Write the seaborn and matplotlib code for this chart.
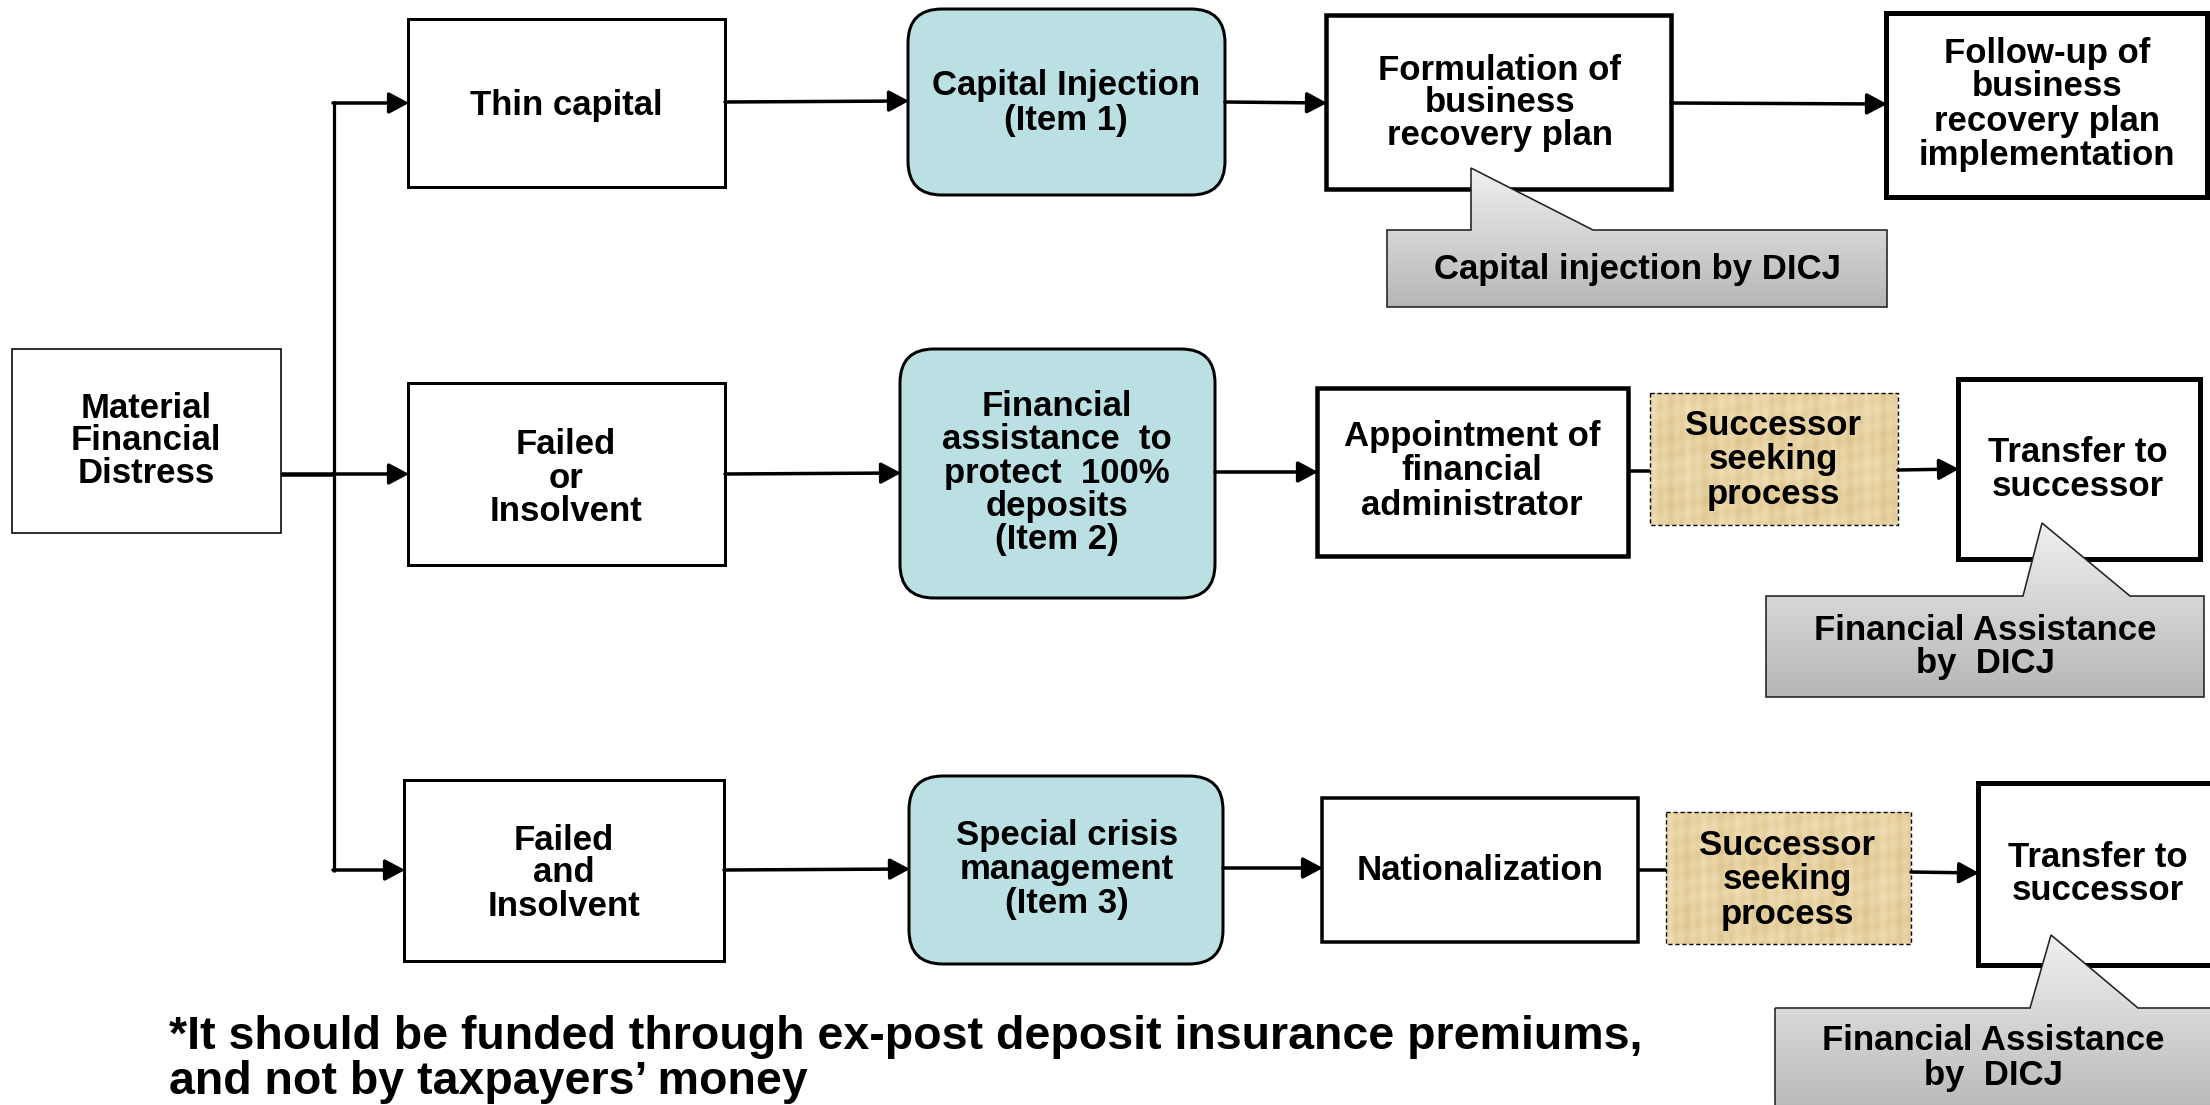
import numpy as np
import matplotlib
matplotlib.use("Agg")
import matplotlib.pyplot as plt
import seaborn as sns
from matplotlib.patches import Rectangle, FancyBboxPatch, Polygon, FancyArrowPatch
from matplotlib.colors import LinearSegmentedColormap

# ---------------- content ----------------
distress_label = "Material\nFinancial\nDistress"
condition_labels = ["Thin capital", "Failed\nor\nInsolvent", "Failed\nand\nInsolvent"]
measure_labels = ["Capital Injection\n(Item 1)",
                  "Financial\nassistance  to\nprotect  100%\ndeposits\n(Item 2)",
                  "Special crisis\nmanagement\n(Item 3)"]
step_labels = ["Formulation of\nbusiness\nrecovery plan",
               "Appointment of\nfinancial\nadministrator",
               "Nationalization"]
seeking_label = "Successor\nseeking\nprocess"
final_labels = ["Follow-up of\nbusiness\nrecovery plan\nimplementation",
                "Transfer to\nsuccessor", "Transfer to\nsuccessor"]
callout_labels = ["Capital injection by DICJ",
                  "Financial Assistance\nby  DICJ",
                  "Financial Assistance\nby  DICJ"]
footnote = ("*It should be funded through ex-post deposit insurance premiums,\n"
            "and not by taxpayers\u2019 money")

# ---------------- style ----------------
sns.set_theme(style="white")
plt.rcParams['font.family'] = ['Liberation Sans', 'DejaVu Sans']

W, H = 2210, 1105
fig = plt.figure(figsize=(W / 100, H / 100), dpi=100)
ax = fig.add_axes([0, 0, 1, 1])
ax.set_xlim(0, W)
ax.set_ylim(H, 0)
ax.axis('off')

PX = 0.72  # points per pixel
FS = 25
TEAL = '#BBE0E3'
ALW = 3.5  # connector width in px


def box(x0, y0, x1, y1, lw, fc='white', rounded=False, ls='-', z=2):
    if rounded:
        p = FancyBboxPatch((x0, y0), x1 - x0, y1 - y0,
                           boxstyle="round,pad=0,rounding_size=34",
                           fc=fc, ec='black', lw=lw * PX, zorder=z)
    else:
        p = Rectangle((x0, y0), x1 - x0, y1 - y0, fc=fc, ec='black',
                      lw=lw * PX, ls=ls, joinstyle='miter', zorder=z)
    ax.add_patch(p)
    return p


def label(cx, cy, text, pitch=33.5, size=FS):
    lines = text.split('\n')
    n = len(lines)
    em = size * 100 / 72
    for i, ln in enumerate(lines):
        y = cy + (i - (n - 1) / 2) * pitch
        ax.text(cx, y + 0.36 * em, ln, ha='center', va='baseline',
                fontsize=size, fontweight='bold', color='black', zorder=10)


def arrow(x0, y0, x1, y1, lw=ALW):
    a = FancyArrowPatch((x0, y0), (x1, y1),
                        arrowstyle='-|>,head_length=0.6,head_width=0.32',
                        mutation_scale=20, lw=lw * PX, color='black',
                        shrinkA=0, shrinkB=0, zorder=5)
    ax.add_patch(a)


def line(xs, ys, lw=ALW):
    ax.plot(xs, ys, color='black', lw=lw * PX, solid_capstyle='butt', zorder=4)


grey_cmap = LinearSegmentedColormap.from_list('g', ['#F0F0F0', '#B6B6B6'])
tan_cmap = LinearSegmentedColormap.from_list('t', ['#DCC28A', '#E7D2A2', '#F0E0BA'])


def callout(rx0, ry0, rx1, ry1, tip, bl, br, text, tcx, tcy, pitch=34):
    pts = [(rx0, ry0), (bl, ry0), tip, (br, ry0), (rx1, ry0), (rx1, ry1), (rx0, ry1)]
    poly = Polygon(pts, closed=True, fc='none', ec='#222222', lw=1.6 * PX,
                   joinstyle='miter', zorder=7)
    ax.add_patch(poly)
    top = tip[1]
    grad = np.linspace(0, 1, 256).reshape(-1, 1)
    im = ax.imshow(grad, cmap=grey_cmap, extent=[rx0, rx1, ry1, top],
                   origin='upper', aspect='auto', zorder=6, interpolation='bilinear')
    clip = Polygon(pts, closed=True, transform=ax.transData)
    im.set_clip_path(clip)
    label(tcx, tcy, text, pitch=pitch)


def seeking(x0, y0, x1, y1, cx, cy):
    # papyrus-like decorative texture (deterministic)
    nx, ny = int(x1 - x0) // 3, int(y1 - y0) // 3
    xx, yy = np.meshgrid(np.arange(nx), np.arange(ny))
    tex = (0.5 + 0.18 * np.sin(xx * 1.7) + 0.12 * np.sin(xx * 0.53 + 1.3)
           + 0.1 * np.sin(yy * 1.1 + xx * 0.2) + 0.08 * np.sin(yy * 0.31))
    ax.imshow(tex, cmap=tan_cmap, vmin=0, vmax=1, extent=[x0, x1, y1, y0],
              origin='upper', aspect='auto', zorder=2, interpolation='bilinear')
    box(x0, y0, x1, y1, 1.4, fc='none', ls=(0, (3, 2)), z=3)
    label(cx, cy, seeking_label, pitch=34.5)


# ---------------- left: distress and trunk ----------------
box(12, 349, 281, 533, 1.6)
label(146, 438, distress_label, pitch=32.5)
line([281, 334], [474, 474], lw=4.5)
line([334, 334], [101, 872], lw=3.2)
arrow(333, 103, 409, 103)
arrow(333, 474, 409, 474)
arrow(333, 870, 405, 870)

# ---------------- row 1 ----------------
box(408, 19, 725, 187, 3)
label(566, 103, condition_labels[0])
arrow(725, 102, 909, 101)
box(908, 9, 1225, 195, 3, fc=TEAL, rounded=True)
label(1066, 100, measure_labels[0], pitch=35)
arrow(1225, 102, 1327, 103)
box(1326, 15, 1671, 189, 4.5)
label(1500, 100, step_labels[0], pitch=33)
arrow(1671, 103, 1887, 104)
box(1886, 13, 2207, 197, 5)
label(2047, 101, final_labels[0], pitch=34)
callout(1387, 230, 1887, 307, (1471, 168), 1471, 1593,
        callout_labels[0], 1637, 266)

# ---------------- row 2 ----------------
box(408, 383, 725, 565, 3)
label(566, 475, condition_labels[1])
arrow(725, 474, 901, 473)
box(900, 349, 1215, 598, 3, fc=TEAL, rounded=True)
label(1057, 470, measure_labels[1], pitch=33.5)
arrow(1215, 472, 1318, 472)
box(1317, 388, 1628, 556, 4.5)
label(1472, 468, step_labels[1], pitch=34.5)
line([1628, 1650], [471, 471])
seeking(1650, 393, 1898, 525, 1773, 457)
arrow(1898, 470, 1959, 469)
box(1958, 379, 2200, 559, 5)
label(2078, 467, final_labels[1], pitch=34)
callout(1766, 596, 2204, 697, (2042, 523), 2023, 2130,
        callout_labels[1], 1985, 644)

# ---------------- row 3 ----------------
box(404, 780, 724, 961, 3)
label(564, 870, condition_labels[2], pitch=33)
arrow(724, 870, 910, 869)
box(909, 776, 1223, 964, 3, fc=TEAL, rounded=True)
label(1067, 867, measure_labels[2], pitch=34)
arrow(1223, 868, 1323, 868)
box(1322, 798, 1638, 942, 3.5)
label(1480, 867, step_labels[2])
line([1638, 1666], [870, 870])
seeking(1666, 812, 1911, 944, 1787, 877)
arrow(1911, 872, 1979, 873)
box(1978, 783, 2230, 965, 5)
label(2098, 871, final_labels[2], pitch=33)
callout(1775, 1008, 2230, 1120, (2051, 935), 2030, 2138,
        callout_labels[2], 1993, 1055)

# ---------------- footnote ----------------
for i, ln in enumerate(footnote.split('\n')):
    ax.text(169, 1049 + i * 45, ln, ha='left', va='baseline',
            fontsize=33.5, fontweight='bold', color='black', zorder=10)

ax.set_xlim(0, W)
ax.set_ylim(H, 0)
fig.savefig('out.png', dpi=100)
